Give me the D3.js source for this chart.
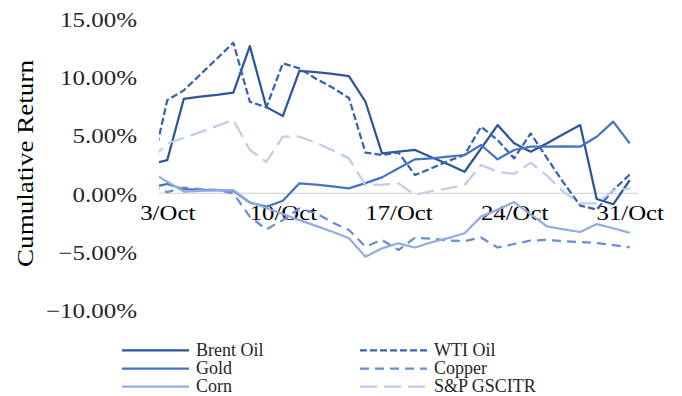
<!DOCTYPE html>
<html>
<head>
<meta charset="utf-8">
<script src="https://cdn.jsdelivr.net/npm/d3@7"></script>
<style>
  html, body { margin: 0; padding: 0; background: #ffffff; }
  svg { display: block; font-family: "Liberation Serif", "Times New Roman", serif; }
</style>
</head>
<body>
<svg id="chart" width="682" height="396"></svg>
<script>
// Calendar days of October 2022 (the 2nd is the last prior observation, cut off by the plot edge)
const octDays = [2, 3, 4, 5, 6, 7, 8, 9, 10, 11, 12, 13, 14, 15, 16, 17, 18, 19, 20, 21, 22, 23, 24, 25, 26, 27, 28, 29, 30, 31];

// Cumulative returns, percent
const brentOil = [2.5, 2.85, 8.1, 8.3, 8.45, 8.64, 12.64, 7.4, 6.64, 10.52, 10.4, 10.25, 10.07, 7.86, 3.43, 3.57, 3.72, 3.1, 2.5, 1.85, 3.85, 5.86, 4.29, 3.57, 4.3, 5.1, 5.86, -0.49, -0.94, 1.14];
const wtiOil   = [1.7, 8.0, 8.84, 10.2, 11.55, 12.93, 7.86, 7.38, 11.16, 10.73, 9.84, 9.08, 8.18, 3.5, 3.29, 3.5, 1.57, 2.15, 2.77, 3.29, 5.72, 4.58, 3.0, 5.15, 3.0, 0.9, -1.05, -1.39, 0.28, 1.61];
const gold     = [0.5, 0.8, 0.35, 0.3, 0.28, 0.22, -0.8, -1.15, -0.64, 0.86, 0.75, 0.6, 0.43, 0.88, 1.37, 2.15, 2.92, 3.0, 3.15, 3.29, 4.15, 2.92, 3.72, 4.0, 4.0, 4.02, 4.0, 4.86, 6.15, 4.29];
const copper   = [0.6, 0.1, 0.5, 0.35, 0.3, 0.0, -2.0, -3.1, -2.3, -1.3, -1.7, -2.5, -3.15, -4.58, -4.0, -4.87, -3.8, -3.9, -4.05, -4.1, -3.8, -4.65, -4.35, -4.05, -4.0, -4.1, -4.18, -4.27, -4.45, -4.64];
const corn     = [1.85, 1.0, 0.15, 0.2, 0.25, 0.28, -0.75, -1.26, -1.78, -2.3, -2.8, -3.3, -3.86, -5.44, -4.72, -4.29, -4.65, -4.2, -3.85, -3.43, -2.0, -1.4, -0.75, -1.8, -2.85, -3.1, -3.32, -2.64, -3.0, -3.4];
const gscitr   = [2.85, 4.29, 4.75, 5.25, 5.78, 6.3, 3.72, 2.71, 4.86, 4.86, 4.35, 3.7, 3.0, 0.71, 0.75, 0.86, -0.15, 0.2, 0.43, 0.71, 2.43, 1.85, 1.66, 2.63, 1.5, 0.1, -0.86, -0.86, 0.25, 0.4];

const seriesNames = ["Brent Oil", "WTI Oil", "Gold", "Copper", "Corn", "S&P GSCITR"];
const seriesValues = [brentOil, wtiOil, gold, copper, corn, gscitr];

const yTickValues = [-10, -5, 0, 5, 10, 15];
const xTickDays = [3, 10, 17, 24, 31];
const yTitle = "Cumulative Return";

// Line styles per series
const seriesStyle = {
  "Brent Oil":  { color: "#2E5597", dash: null },
  "WTI Oil":    { color: "#3763B2", dash: "7,3" },
  "Gold":       { color: "#4472C4", dash: null },
  "Copper":     { color: "#6B8DD2", dash: "9,6" },
  "Corn":       { color: "#93ADDF", dash: null },
  "S&P GSCITR": { color: "#BDCDEA", dash: "17,7" }
};

const svg = d3.select("#chart");
const plot = { left: 159, right: 638, top: 18.6, bottom: 309.8 };

const day = d => new Date(Date.UTC(2022, 9, d));
const x = d3.scaleUtc()
  .domain([new Date(Date.UTC(2022, 9, 2, 12)), new Date(Date.UTC(2022, 9, 31, 12))])
  .range([plot.left, plot.right]);
const y = d3.scaleLinear().domain([-10, 15]).range([plot.bottom, plot.top]);

// Stretch glyphs horizontally to the wide serif look of the labels
function widen(sel, k) {
  sel.each(function () {
    const w = this.getComputedTextLength();
    this.setAttribute("textLength", (w * k).toFixed(1));
    this.setAttribute("lengthAdjust", "spacingAndGlyphs");
  });
}

svg.append("defs").append("clipPath").attr("id", "plotClip")
  .append("rect")
  .attr("x", plot.left).attr("y", 0)
  .attr("width", plot.right - plot.left).attr("height", 396);

// Horizontal axis line at zero
svg.append("line")
  .attr("x1", plot.left).attr("x2", plot.right)
  .attr("y1", y(0)).attr("y2", y(0))
  .attr("stroke", "#D9D9D9").attr("stroke-width", 1.3);

// Y axis labels
const yAxis = d3.axisLeft(y).tickValues(yTickValues).tickSize(0).tickPadding(0)
  .tickFormat(v => d3.format(".2f")(v) + "%");
const yAxisG = svg.append("g").attr("transform", "translate(137,1)").call(yAxis);
yAxisG.select(".domain").remove();
yAxisG.selectAll("text")
  .attr("fill", "#262626").attr("font-size", 21)
  .attr("font-family", "Liberation Serif, Times New Roman, serif");
widen(yAxisG.selectAll("text"), 1.19);

// X axis labels (below the zero line)
const xAxis = d3.axisBottom(x).tickValues(xTickDays.map(day)).tickSize(0).tickPadding(0)
  .tickFormat(d3.utcFormat("%-d/%b"));
const xAxisG = svg.append("g").attr("transform", `translate(0,${y(0)})`).call(xAxis);
xAxisG.select(".domain").remove();
xAxisG.selectAll("text")
  .attr("fill", "#000000").attr("font-size", 21).attr("dy", null).attr("y", 27)
  .attr("font-family", "Liberation Serif, Times New Roman, serif");
widen(xAxisG.selectAll("text"), 1.18);

// Y title
const title = svg.append("text")
  .attr("transform", "translate(33,163.5) rotate(-90)")
  .attr("text-anchor", "middle")
  .attr("font-size", 23).attr("fill", "#000000")
  .text(yTitle);
title.attr("textLength", 207).attr("lengthAdjust", "spacingAndGlyphs");

// Series lines
const line = d3.line()
  .x((v, i) => x(day(octDays[i])))
  .y(v => y(v));

const linesG = svg.append("g").attr("clip-path", "url(#plotClip)");
seriesNames.forEach((name, k) => {
  const st = seriesStyle[name];
  linesG.append("path")
    .datum(seriesValues[k])
    .attr("d", line)
    .attr("fill", "none")
    .attr("stroke", st.color)
    .attr("stroke-width", 2.25)
    .attr("stroke-linejoin", "round")
    .attr("stroke-dasharray", st.dash);
});

// Legend: two columns, row-major order
const legend = svg.append("g");
seriesNames.forEach((name, k) => {
  const st = seriesStyle[name];
  const col = k % 2, row = Math.floor(k / 2);
  const lx = col === 0 ? 122 : 360;
  const ly = 350.3 + row * 18.2;
  legend.append("line")
    .attr("x1", lx).attr("x2", lx + 67)
    .attr("y1", ly).attr("y2", ly)
    .attr("stroke", st.color).attr("stroke-width", 2.25)
    .attr("stroke-dasharray", st.dash);
  legend.append("text")
    .attr("x", lx + 74).attr("y", ly + 5.5)
    .attr("font-size", 18).attr("fill", "#262626")
    .text(name);
});
</script>
</body>
</html>
